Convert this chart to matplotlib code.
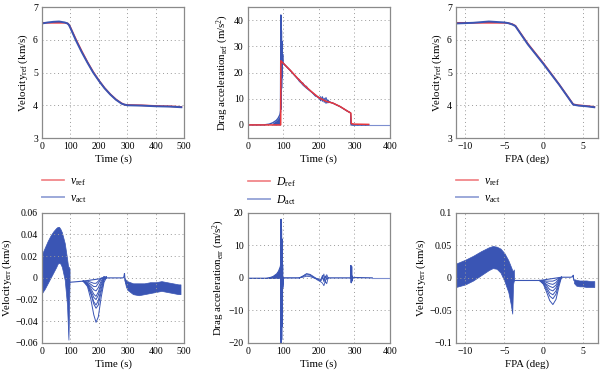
import matplotlib.pyplot as plt
from matplotlib.lines import Line2D
from matplotlib.ticker import FuncFormatter, MultipleLocator

# fuentes tipo Times
plt.rcParams['font.family'] = ['Liberation Serif', 'DejaVu Serif']
plt.rcParams['mathtext.fontset'] = 'custom'
plt.rcParams['mathtext.rm'] = 'Liberation Serif'
plt.rcParams['mathtext.it'] = 'Liberation Serif:italic'
plt.rcParams['font.size'] = 7.5

RED = '#e8383d'
BLUE = '#3a55b4'

# ---------------- datos ----------------
# velocidad vs tiempo
t_v = [0, 20, 40, 60, 80, 90, 95, 100, 120, 140, 160, 180, 200, 220, 240, 260, 280, 290, 300, 350, 400, 450, 490]
v_ref_t = [6.52, 6.52, 6.52, 6.52, 6.52, 6.5, 6.46, 6.38, 6.0, 5.65, 5.32, 5.02, 4.76, 4.53, 4.34, 4.18, 4.06, 4.02, 4.01, 4.0, 3.98, 3.97, 3.95]
v_act_t = [6.5, 6.53, 6.55, 6.56, 6.53, 6.5, 6.45, 6.36, 5.97, 5.62, 5.3, 5.0, 4.75, 4.52, 4.33, 4.17, 4.05, 4.02, 4.0, 3.99, 3.97, 3.96, 3.94]

# aceleración de arrastre vs tiempo
t_dref = [0, 92.5, 93, 100, 120, 140, 160, 180, 200, 220, 240, 260, 280, 290, 291, 300, 340]
d_ref = [0, 0, 24.5, 23.5, 20.8, 17.8, 15.0, 12.6, 10.4, 9.0, 8.3, 7.0, 5.3, 4.5, 0.5, 0.3, 0.2]
t_drise = [0, 45, 60, 70, 80, 85, 90, 92]
d_rise = [0, 0, 0.3, 0.8, 1.7, 2.5, 3.8, 5.0]
t_dspike = [92, 93, 93.4, 93.8, 94.2, 94.6, 95, 95.5, 96, 96.5, 97, 98, 99, 100]
d_spike = [5.0, 42, 6, 38, 10, 36, 14, 32, 18, 29, 22, 27, 24, 23.6]
t_drun = [100, 110, 120, 130, 140, 145, 150, 155, 160, 165, 170, 180, 190, 200, 205, 210, 215, 220, 225, 230, 240, 260, 280, 289, 290, 292, 300, 340]
d_run1 = [23.6, 22.2, 20.8, 19.3, 17.8, 17.1, 16.4, 15.9, 15.0, 14.5, 13.8, 12.6, 11.4, 10.4, 9.2, 10.8, 8.6, 10.5, 8.4, 8.8, 8.3, 7.0, 5.3, 4.7, 1.0, 0, 0, 0]
d_run2 = [23.4, 22.0, 20.6, 19.1, 17.6, 16.6, 16.0, 15.2, 14.6, 14.0, 13.5, 12.4, 11.2, 10.2, 10.8, 9.0, 10.2, 8.2, 9.6, 8.7, 8.2, 6.9, 5.2, 4.6, 0.5, 0, 0, 0]
d_run3 = [23.5, 22.1, 20.7, 19.2, 17.7, 17.4, 16.2, 16.0, 14.8, 14.8, 13.6, 12.5, 11.0, 10.6, 9.6, 10.0, 9.2, 9.0, 9.2, 8.8, 8.3, 7.0, 5.3, 4.6, 0.2, 0, 0, 0]
t_dtail = [340, 400]
d_tail = [0, 0]

# velocidad vs FPA
fpa_v = [-11.2, -9, -7, -5, -4.5, -4, -3.6, -2, 0, 2, 3.8, 4.5, 5.5, 6.5]
v_ref_f = [6.52, 6.52, 6.52, 6.52, 6.51, 6.48, 6.43, 5.88, 5.28, 4.64, 4.03, 4.0, 3.98, 3.95]
v_act_f = [6.5, 6.52, 6.56, 6.53, 6.51, 6.47, 6.42, 5.86, 5.26, 4.63, 4.02, 3.99, 3.97, 3.94]

# error de velocidad vs tiempo
t_eband = [0, 10, 20, 30, 40, 50, 55, 60, 65, 70, 80, 88, 91, 93, 95, 97]
e_up = [0.022, 0.028, 0.034, 0.039, 0.043, 0.046, 0.047, 0.047, 0.045, 0.042, 0.032, 0.018, 0.012, 0.010, 0.010, 0.008]
e_lo = [-0.014, -0.010, -0.005, 0.000, 0.005, 0.010, 0.013, 0.014, 0.013, 0.010, -0.002, -0.025, -0.045, -0.057, -0.03, -0.004]
t_ebase = [97, 100, 145, 226, 250, 285, 288, 290, 292, 295]
e_base = [-0.004, -0.004, -0.003, 0.0, 0.0, 0.0, 0.001, 0.004, -0.002, -0.005]
t_edip = [145, 160, 172, 182, 190, 198, 208, 218, 226]
e_dips = [
    [-0.003, -0.008, -0.020, -0.034, -0.041, -0.036, -0.018, -0.004, 0.0],
    [-0.003, -0.007, -0.015, -0.024, -0.028, -0.025, -0.013, -0.002, 0.001],
    [-0.003, -0.006, -0.014, -0.022, -0.025, -0.021, -0.010, -0.001, 0.001],
    [-0.003, -0.006, -0.012, -0.018, -0.020, -0.016, -0.007, 0.0, 0.001],
    [-0.003, -0.005, -0.010, -0.015, -0.017, -0.013, -0.005, 0.001, 0.0],
    [-0.003, -0.005, -0.008, -0.011, -0.012, -0.009, -0.003, 0.001, 0.0],
    [-0.003, -0.004, -0.006, -0.008, -0.008, -0.005, -0.001, 0.001, 0.0],
    [-0.003, -0.003, -0.004, -0.005, -0.005, -0.003, 0.0, 0.0, 0.0],
]
t_eband2 = [290, 295, 300, 320, 340, 360, 380, 400, 420, 440, 460, 480, 487]
e_up2 = [0.0, -0.002, -0.003, -0.005, -0.005, -0.005, -0.004, -0.004, -0.003, -0.004, -0.005, -0.006, -0.006]
e_lo2 = [-0.002, -0.008, -0.011, -0.015, -0.016, -0.015, -0.014, -0.013, -0.012, -0.013, -0.014, -0.015, -0.015]

# error de arrastre vs tiempo
t_aband = [0, 50, 60, 70, 80, 85, 90, 93]
a_up = [0, 0, 0.2, 0.6, 1.4, 2.2, 3.6, 5.5]
t_aspike = [93, 93.5, 94, 94.5, 95, 95.5, 96, 96.5, 97, 97.5, 98, 100, 145]
a_spike = [5.5, 18, -20, 15, -19, 12, -15, 8, -10, 4, -3, 0, 0]
t_aosc = [145, 155, 165, 175, 185, 195, 205, 210, 214, 218, 222, 226]
a_osc = [
    [0, 0.6, 1.2, 1.0, 0.2, -0.6, -1.2, -1.6, -2.4, -1.0, -1.8, 0],
    [0, 0.4, 0.9, 0.8, 0.1, -0.4, -0.8, 0.8, -1.2, 0.5, -0.5, 0],
    [0, 0.5, 1.3, 1.1, 0.4, -0.3, -1.0, -0.2, 1.2, -1.5, 1.0, 0],
    [0, 0.2, 0.5, 0.4, 0.0, -0.2, -0.5, 0.3, -0.8, 0.6, -0.3, 0],
]
t_apost = [226, 285, 289, 290, 291, 292, 293, 294, 296, 300, 350]
a_post = [0, 0, 0, 3.8, -1.5, 3.5, -1.0, 0.5, 0, 0.1, 0]
t_atail = [350, 400]
a_tail = [0, 0]

# error de velocidad vs FPA
f_eband = [-11.2, -10, -9, -8, -7, -6.5, -6, -5.5, -5, -4.5, -4.2, -4.0, -3.9, -3.8, -3.75]
f_up = [0.022, 0.028, 0.034, 0.041, 0.047, 0.049, 0.048, 0.045, 0.038, 0.027, 0.018, 0.012, 0.010, 0.013, -0.004]
f_lo = [-0.014, -0.010, -0.004, 0.004, 0.012, 0.015, 0.014, 0.008, -0.005, -0.022, -0.040, -0.055, -0.010, -0.004, -0.004]
f_ebase = [-3.75, -0.5, 2.3, 3.5, 3.75, 3.8, 3.85, 3.9]
fe_base = [-0.004, -0.004, 0.001, 0.001, 0.002, 0.004, -0.002, -0.004]
f_edip = [-0.5, 0.0, 0.4, 0.8, 1.2, 1.6, 2.0, 2.3]
fe_dips = [
    [-0.004, -0.010, -0.022, -0.035, -0.041, -0.033, -0.012, 0.001],
    [-0.004, -0.009, -0.018, -0.028, -0.032, -0.025, -0.008, 0.001],
    [-0.004, -0.008, -0.015, -0.023, -0.026, -0.020, -0.006, 0.001],
    [-0.004, -0.007, -0.012, -0.018, -0.020, -0.015, -0.004, 0.001],
    [-0.004, -0.006, -0.010, -0.013, -0.015, -0.011, -0.002, 0.001],
    [-0.004, -0.005, -0.007, -0.009, -0.010, -0.007, -0.001, 0.001],
    [-0.004, -0.004, -0.005, -0.005, -0.005, -0.003, 0.0, 0.001],
]
f_eband2 = [3.9, 4.2, 4.6, 5.0, 5.5, 6.0, 6.5]
f_up2 = [-0.002, -0.003, -0.004, -0.004, -0.004, -0.005, -0.005]
f_lo2 = [-0.008, -0.012, -0.013, -0.013, -0.014, -0.014, -0.014]

# ---------------- figura ----------------
fig = plt.figure(figsize=(6, 3.74), dpi=100)
cols = [0.070, 0.413, 0.760]
w = 0.237
ax1 = fig.add_axes([cols[0], 0.631, w, 0.350])
ax2 = fig.add_axes([cols[1], 0.631, w, 0.350])
ax3 = fig.add_axes([cols[2], 0.631, w, 0.350])
ax4 = fig.add_axes([cols[0], 0.083, w, 0.348])
ax5 = fig.add_axes([cols[1], 0.083, w, 0.348])
ax6 = fig.add_axes([cols[2], 0.083, w, 0.348])


def fmt(v, pos):
    v = round(v, 6)
    if v == 0:
        return '0'
    return f'{v:g}'.replace('-', '\u2212')


for ax in [ax1, ax2, ax3, ax4, ax5, ax6]:
    ax.grid(True, linestyle=(0, (1, 3)), color='#9a9a9a', linewidth=0.7)
    for s in ax.spines.values():
        s.set_color('#8a8a8a')
        s.set_linewidth(0.9)
    ax.tick_params(direction='in', length=0, pad=3, labelsize=7)
    ax.yaxis.set_major_formatter(FuncFormatter(fmt))
    ax.xaxis.set_major_formatter(FuncFormatter(fmt))

LAB = 7.8

# 1: velocidad vs tiempo
ax1.plot(t_v, v_ref_t, color=RED, lw=1.2)
ax1.plot(t_v, v_act_t, color=BLUE, lw=1.4)
ax1.set_xlim(0, 500)
ax1.set_ylim(3, 7)
ax1.xaxis.set_major_locator(MultipleLocator(100))
ax1.yaxis.set_major_locator(MultipleLocator(1))
ax1.set_xlabel('Time (s)', labelpad=2, fontsize=LAB)
ax1.set_ylabel('Velocity$_{\\rm ref}$ (km/s)', labelpad=2, fontsize=LAB)

# 2: arrastre vs tiempo
ax2.plot(t_drise, d_rise, color=BLUE, lw=1.0)
ax2.fill_between(t_drise[3:], 0, d_rise[3:], color=BLUE, lw=0)
ax2.plot(t_dspike, d_spike, color=BLUE, lw=1.0)
ax2.plot(t_drun, d_run1, color=BLUE, lw=0.7)
ax2.plot(t_drun, d_run2, color=BLUE, lw=0.7)
ax2.plot(t_drun, d_run3, color=BLUE, lw=0.7)
ax2.plot(t_dtail, d_tail, color='#7d8fd0', lw=0.8)
ax2.plot(t_dref, d_ref, color=RED, lw=1.1)
ax2.set_xlim(0, 400)
ax2.set_ylim(-5, 45)
ax2.xaxis.set_major_locator(MultipleLocator(100))
ax2.yaxis.set_major_locator(MultipleLocator(10))
ax2.set_xlabel('Time (s)', labelpad=2, fontsize=LAB)
ax2.set_ylabel('Drag acceleration$_{\\rm ref}$ (m/s$^2$)', labelpad=2, fontsize=LAB)

# 3: velocidad vs FPA
ax3.plot(fpa_v, v_ref_f, color=RED, lw=1.2)
ax3.plot(fpa_v, v_act_f, color=BLUE, lw=1.4)
ax3.set_xlim(-11.2, 7)
ax3.set_ylim(3, 7)
ax3.xaxis.set_major_locator(MultipleLocator(5))
ax3.yaxis.set_major_locator(MultipleLocator(1))
ax3.set_xlabel('FPA (deg)', labelpad=2, fontsize=LAB)
ax3.set_ylabel('Velocity$_{\\rm ref}$ (km/s)', labelpad=2, fontsize=LAB)

# 4: error de velocidad vs tiempo
ax4.fill_between(t_eband, e_lo, e_up, color=BLUE, lw=0.5)
ax4.plot(t_ebase, e_base, color=BLUE, lw=0.8)
for d in e_dips:
    ax4.plot(t_edip, d, color=BLUE, lw=0.7)
ax4.fill_between(t_eband2, e_lo2, e_up2, color=BLUE, lw=0.5)
ax4.set_xlim(0, 500)
ax4.set_ylim(-0.06, 0.06)
ax4.xaxis.set_major_locator(MultipleLocator(100))
ax4.yaxis.set_major_locator(MultipleLocator(0.02))
ax4.set_xlabel('Time (s)', labelpad=2, fontsize=LAB)
ax4.set_ylabel('Velocity$_{\\rm err}$ (km/s)', labelpad=1, fontsize=LAB)

# 5: error de arrastre vs tiempo
ax5.fill_between(t_aband, 0, a_up, color=BLUE, lw=0.8)
ax5.plot(t_aspike, a_spike, color=BLUE, lw=1.0)
for a in a_osc:
    ax5.plot(t_aosc, a, color=BLUE, lw=0.6)
ax5.plot(t_apost, a_post, color=BLUE, lw=0.9)
ax5.plot(t_atail, a_tail, color='#7d8fd0', lw=0.8)
ax5.set_xlim(0, 400)
ax5.set_ylim(-20, 20)
ax5.xaxis.set_major_locator(MultipleLocator(100))
ax5.yaxis.set_major_locator(MultipleLocator(10))
ax5.set_xlabel('Time (s)', labelpad=2, fontsize=LAB)
ax5.set_ylabel('Drag acceleration$_{\\rm err}$ (m/s$^2$)', labelpad=1, fontsize=LAB)

# 6: error de velocidad vs FPA
ax6.fill_between(f_eband, f_lo, f_up, color=BLUE, lw=0.5)
ax6.plot(f_ebase, fe_base, color=BLUE, lw=0.8)
for d in fe_dips:
    ax6.plot(f_edip, d, color=BLUE, lw=0.7)
ax6.fill_between(f_eband2, f_lo2, f_up2, color=BLUE, lw=0.5)
ax6.set_xlim(-11.2, 7)
ax6.set_ylim(-0.1, 0.1)
ax6.xaxis.set_major_locator(MultipleLocator(5))
ax6.yaxis.set_major_locator(MultipleLocator(0.05))
ax6.set_xlabel('FPA (deg)', labelpad=2, fontsize=LAB)
ax6.set_ylabel('Velocity$_{\\rm err}$ (km/s)', labelpad=1, fontsize=LAB)

# leyendas entre filas
names = [('v', cols[0]), ('D', cols[1]), ('v', cols[2])]
for n, x0 in names:
    h = [Line2D([], [], color=RED, alpha=0.65, lw=1.2),
         Line2D([], [], color=BLUE, alpha=0.5, lw=1.4)]
    lab = ['$%s_{\\rm ref}$' % n, '$%s_{\\rm act}$' % n]
    fig.legend(h, lab, loc='upper left', bbox_to_anchor=(x0, 0.532), frameon=False,
               borderpad=0, borderaxespad=0, handlelength=1.9, handletextpad=0.5,
               labelspacing=0.35, fontsize=8.5)

fig.savefig('out.png', dpi=100)
